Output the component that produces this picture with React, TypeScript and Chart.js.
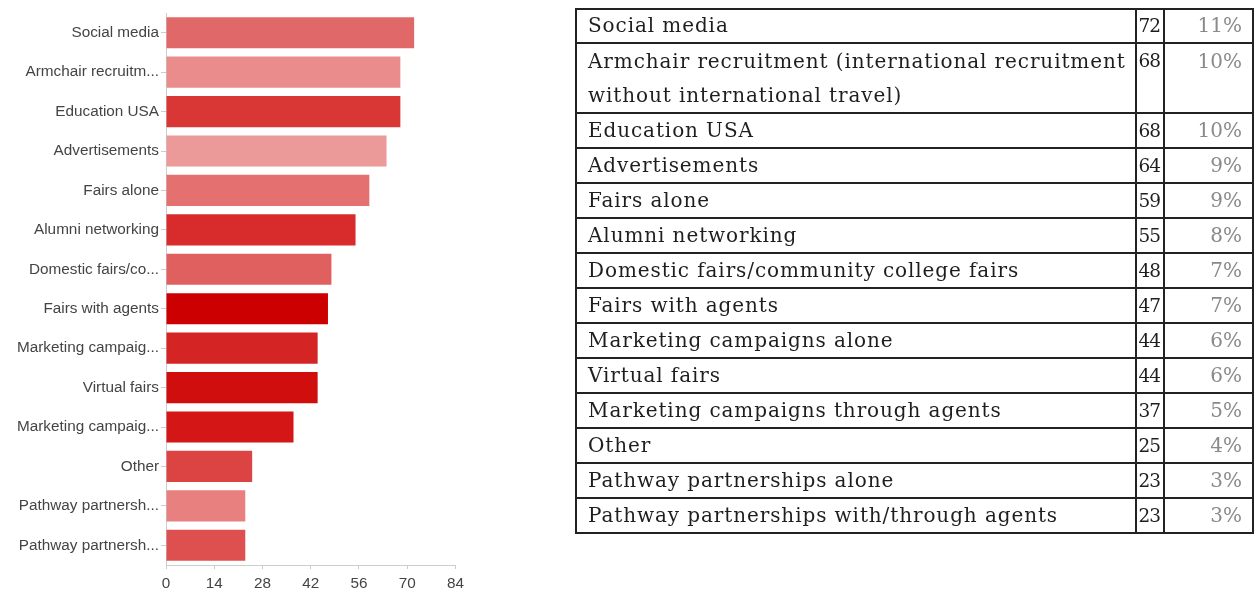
import React, { useEffect, useRef } from "react";
import Chart from "chart.js/auto";

const chartLabels = [
  "Social media",
  "Armchair recruitm...",
  "Education USA",
  "Advertisements",
  "Fairs alone",
  "Alumni networking",
  "Domestic fairs/co...",
  "Fairs with agents",
  "Marketing campaig...",
  "Virtual fairs",
  "Marketing campaig...",
  "Other",
  "Pathway partnersh...",
  "Pathway partnersh...",
];

const tableLabels = [
  "Social media",
  "Armchair recruitment (international recruitment without international travel)",
  "Education USA",
  "Advertisements",
  "Fairs alone",
  "Alumni networking",
  "Domestic fairs/community college fairs",
  "Fairs with agents",
  "Marketing campaigns alone",
  "Virtual fairs",
  "Marketing campaigns through agents",
  "Other",
  "Pathway partnerships alone",
  "Pathway partnerships with/through agents",
];

const counts = [72, 68, 68, 64, 59, 55, 48, 47, 44, 44, 37, 25, 23, 23];
const percents = ["11%", "10%", "10%", "9%", "9%", "8%", "7%", "7%", "6%", "6%", "5%", "4%", "3%", "3%"];

const barColors = [
  "#e06868",
  "#ea8c8c",
  "#d93636",
  "#eb9999",
  "#e47070",
  "#d82c2c",
  "#e06060",
  "#cc0000",
  "#d42424",
  "#d00e0e",
  "#d41616",
  "#dc4444",
  "#e88080",
  "#de5050",
];

const xTicks = [0, 14, 28, 42, 56, 70, 84];

function BarChart() {
  const ref = useRef<HTMLCanvasElement | null>(null);
  useEffect(() => {
    if (!ref.current) return;
    const font = { family: "'Liberation Sans', Arial, sans-serif", size: 15.3 };
    const chart = new Chart(ref.current, {
      type: "bar",
      data: {
        labels: chartLabels,
        datasets: [
          {
            data: counts,
            backgroundColor: barColors,
            borderWidth: 0,
            barPercentage: 0.79,
            categoryPercentage: 1,
          },
        ],
      },
      options: {
        indexAxis: "y",
        animation: false,
        responsive: false,
        maintainAspectRatio: false,
        layout: { padding: { top: 13, right: 14, bottom: 0, left: 0 } },
        plugins: { legend: { display: false }, tooltip: { enabled: false } },
        scales: {
          x: {
            type: "linear",
            min: xTicks[0],
            max: xTicks[xTicks.length - 1],
            afterBuildTicks: (scale: any) => {
              scale.ticks = xTicks.map((v) => ({ value: v }));
            },
            afterFit: (scale: any) => {
              scale.height = 25;
            },
            grid: { drawOnChartArea: false, drawTicks: true, tickLength: 4, color: "#cccccc" },
            border: { display: true, color: "#cccccc", width: 1 },
            ticks: { color: "#444444", font, padding: 6, maxRotation: 0 },
          },
          y: {
            type: "category",
            afterFit: (scale: any) => {
              scale.width = 166;
            },
            grid: { drawOnChartArea: false, drawTicks: true, tickLength: 5, color: "#cccccc", offset: false },
            border: { display: true, color: "#cccccc", width: 1 },
            ticks: { color: "#444444", font, padding: 2, autoSkip: false },
          },
        },
      },
    });
    return () => chart.destroy();
  }, []);
  return (
    <div style={{ position: "fixed", left: 0, top: 0, width: 470, height: 590 }}>
      <canvas ref={ref} width={470} height={590} style={{ width: 470, height: 590 }} />
    </div>
  );
}

function DataTable() {
  const cellBorder = "2px solid #222";
  return (
    <table
      style={{
        position: "fixed",
        left: 575,
        top: 8,
        width: 677,
        borderCollapse: "collapse",
        fontFamily: "'DejaVu Serif', serif",
        fontSize: 20,
        letterSpacing: "0.9px",
        color: "#1e1e1e",
        tableLayout: "fixed",
      }}
    >
      <colgroup>
        <col style={{ width: 560 }} />
        <col style={{ width: 28 }} />
        <col style={{ width: 89 }} />
      </colgroup>
      <tbody>
        {tableLabels.map((label, i) => {
          const lh = i === 1 ? "34px" : i === 0 ? "31.5px" : "33px";
          return (
            <tr key={i}>
              <td
                style={{
                  border: cellBorder,
                  padding: "0 6px 0 11px",
                  lineHeight: lh,
                  verticalAlign: "top",
                }}
              >
                {label}
              </td>
              <td
                style={{
                  border: cellBorder,
                  padding: "0 3px 0 0",
                  lineHeight: lh,
                  textAlign: "right",
                  verticalAlign: "top",
                  fontSize: 18.5,
                  letterSpacing: "-1px",
                }}
              >
                {counts[i]}
              </td>
              <td
                style={{
                  border: cellBorder,
                  padding: "0 10px 0 0",
                  lineHeight: lh,
                  textAlign: "right",
                  verticalAlign: "top",
                  color: "#8a8a8a",
                  letterSpacing: "0px",
                }}
              >
                {percents[i]}
              </td>
            </tr>
          );
        })}
      </tbody>
    </table>
  );
}

export default function App() {
  return (
    <div>
      <BarChart />
      <DataTable />
    </div>
  );
}
